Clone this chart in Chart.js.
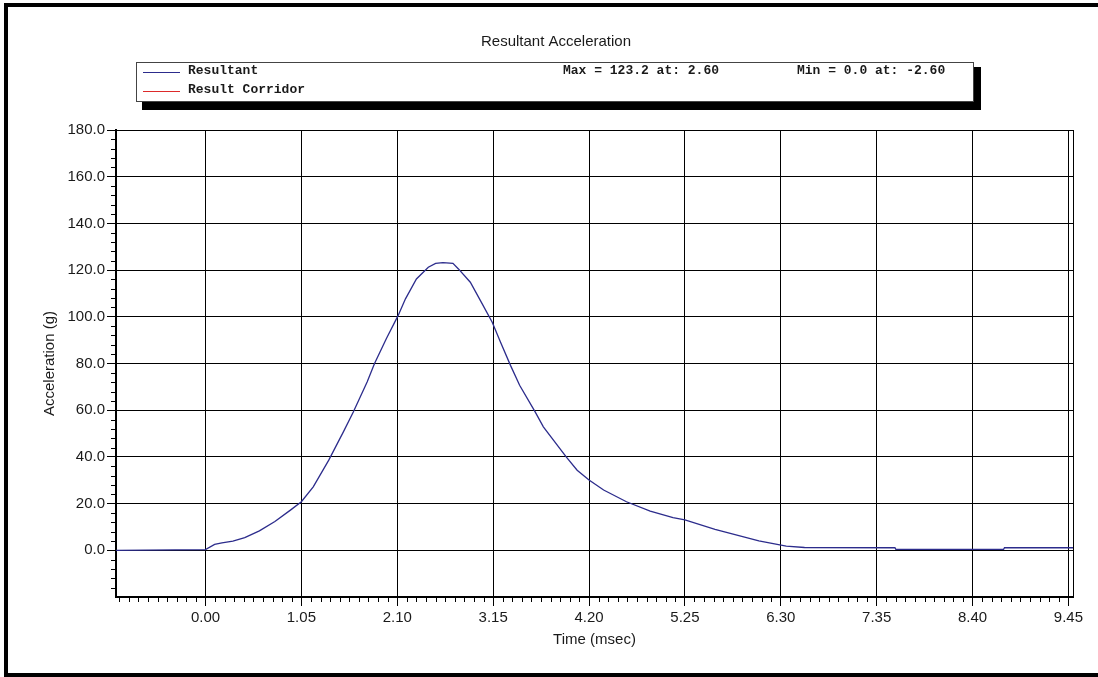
<!DOCTYPE html>
<html>
<head>
<meta charset="utf-8">
<title>Resultant Acceleration</title>
<script src="https://cdn.jsdelivr.net/npm/chart.js@4.4.1/dist/chart.umd.min.js"></script>
<style>
  html, body { margin: 0; padding: 0; background: #fff; }
  #wrap { width: 1098px; height: 677px; position: relative; }
</style>
</head>
<body>
<div id="wrap"><canvas id="accChart" width="1098" height="677"></canvas></div>
<script>
// ===== DATA =====
const TIME_MS = [
  -2.60, -1.00, 0.00, 0.10, 0.18, 0.30, 0.43, 0.59, 0.76, 0.93,
  1.05, 1.18, 1.35, 1.51, 1.62, 1.77, 1.85, 1.98, 2.11, 2.19,
  2.31, 2.44, 2.52, 2.60, 2.71, 2.77, 2.90, 3.02, 3.14, 3.23,
  3.34, 3.44, 3.61, 3.70, 3.95, 4.07, 4.20, 4.36, 4.61, 4.87,
  5.12, 5.25, 5.58, 6.06, 6.36, 6.56, 7.55, 7.56, 8.74, 8.75, 9.60
];
const ACCEL_G = [
  0.0, 0.0, 0.3, 2.5, 3.2, 3.9, 5.4, 8.3, 12.3, 17.2,
  20.8, 27.2, 38.6, 50.7, 59.3, 72.1, 79.9, 90.6, 100.6, 107.7,
  116.2, 121.2, 122.9, 123.2, 122.9, 120.5, 114.8, 106.3, 97.7, 89.2,
  79.2, 70.7, 59.3, 52.9, 40.0, 34.3, 30.1, 25.8, 20.8, 16.8,
  14.0, 13.0, 9.0, 4.0, 1.8, 1.2, 1.1, 0.4, 0.4, 1.1, 1.1
];
const CORRIDOR_G = [];   // corridor trace is listed in the legend but not drawn

const SERIES_NAMES  = ['Resultant', 'Result Corridor'];
const SERIES_COLORS = ['#2c2c8c', '#dd2a2a'];
const X_TICKS = [0.00, 1.05, 2.10, 3.15, 4.20, 5.25, 6.30, 7.35, 8.40, 9.45];
const Y_TICKS = [0, 20, 40, 60, 80, 100, 120, 140, 160, 180];
const X_MINOR_PER_MAJOR = 10;
const Y_MINOR_PER_MAJOR = 5;

const TITLE = 'Resultant Acceleration';
const INK = '#1a1a1a';

Chart.defaults.font.family = '"Liberation Sans", Arial, sans-serif';
Chart.defaults.font.size = 15;
Chart.defaults.color = INK;

// ======== FRAME + TITLE + LEGEND BOX ========
const frameBox = {
  id: 'frameBox',
  beforeDraw(chart) {
    const ctx = chart.ctx;
    ctx.save();
    ctx.fillStyle = '#fff';
    ctx.fillRect(0, 0, chart.width, chart.height);
    ctx.fillStyle = '#000';
    ctx.fillRect(4, 3, 4, 674);
    ctx.fillRect(4, 3, 1094, 4);
    ctx.fillRect(4, 673, 1094, 4);
    ctx.restore();
  },
  afterDraw(chart) {
    const ctx = chart.ctx;
    ctx.save();
    // title
    ctx.fillStyle = INK;
    ctx.font = '15px "Liberation Sans", Arial, sans-serif';
    ctx.textAlign = 'center';
    ctx.textBaseline = 'middle';
    ctx.fillText(TITLE, 556, 42);

    // legend box with drop shadow
    ctx.fillStyle = '#000';
    ctx.fillRect(142, 67, 839, 43);
    ctx.fillStyle = '#fff';
    ctx.fillRect(136, 62, 838, 40);
    ctx.strokeStyle = '#444';
    ctx.lineWidth = 1;
    ctx.strokeRect(136.5, 62.5, 837, 39);

    ctx.font = 'bold 13px "Liberation Mono", "DejaVu Sans Mono", monospace';
    ctx.textAlign = 'left';
    chart.data.datasets.forEach((ds, i) => {
      const y = 72 + i * 19;
      ctx.strokeStyle = SERIES_COLORS[i];
      ctx.lineWidth = 1;
      ctx.beginPath();
      ctx.moveTo(143, y + 0.5);
      ctx.lineTo(180, y + 0.5);
      ctx.stroke();
      ctx.fillStyle = INK;
      ctx.fillText(ds.label, 188, y - 1);
    });

    // max / min readout from the resultant trace
    let iMax = 0, iMin = 0;
    ACCEL_G.forEach((v, i) => {
      if (v > ACCEL_G[iMax]) iMax = i;
      if (v < ACCEL_G[iMin]) iMin = i;
    });
    ctx.fillText(`Max = ${ACCEL_G[iMax].toFixed(1)} at: ${TIME_MS[iMax].toFixed(2)}`, 563, 71);
    ctx.fillText(`Min = ${ACCEL_G[iMin].toFixed(1)} at: ${TIME_MS[iMin].toFixed(2)}`, 797, 71);
    ctx.restore();
  },
};

// ======== MINOR TICKS + TOP/RIGHT BORDER ========
const minorTicks = {
  id: 'minorTicks',
  afterDraw(chart) {
    const { ctx, chartArea: ca } = chart;
    const xs = chart.scales.x, ys = chart.scales.y;
    ctx.save();
    ctx.strokeStyle = '#000';
    ctx.lineWidth = 1;
    ctx.beginPath();

    const xStep = (X_TICKS[1] - X_TICKS[0]) / X_MINOR_PER_MAJOR;
    for (let k = Math.ceil(xs.min / xStep); k * xStep <= xs.max + 1e-9; k++) {
      if (k % X_MINOR_PER_MAJOR === 0) continue;
      const px = Math.round(xs.getPixelForValue(k * xStep)) + 0.5;
      ctx.moveTo(px, ca.bottom);
      ctx.lineTo(px, ca.bottom + 5);
    }
    const yStep = (Y_TICKS[1] - Y_TICKS[0]) / Y_MINOR_PER_MAJOR;
    for (let k = Math.ceil(ys.min / yStep); k * yStep <= ys.max + 1e-9; k++) {
      if (k % Y_MINOR_PER_MAJOR === 0) continue;
      const py = Math.round(ys.getPixelForValue(k * yStep)) + 0.5;
      ctx.moveTo(ca.left - 5, py);
      ctx.lineTo(ca.left, py);
    }
    // top and right edge of the plot
    ctx.moveTo(ca.left, Math.round(ca.top) + 0.5);
    ctx.lineTo(ca.right, Math.round(ca.top) + 0.5);
    ctx.moveTo(Math.round(ca.right) + 0.5, ca.top);
    ctx.lineTo(Math.round(ca.right) + 0.5, ca.bottom);
    ctx.stroke();
    ctx.restore();
  },
};

// ======== CHART ========
new Chart(document.getElementById('accChart'), {
  type: 'line',
  data: {
    datasets: [
      {
        label: SERIES_NAMES[0],
        data: TIME_MS.map((t, i) => ({ x: t, y: ACCEL_G[i] })),
        borderColor: SERIES_COLORS[0],
        borderWidth: 1.3,
        pointRadius: 0,
        tension: 0,
        fill: false,
      },
      {
        label: SERIES_NAMES[1],
        data: CORRIDOR_G,
        borderColor: SERIES_COLORS[1],
        borderWidth: 1,
        pointRadius: 0,
        fill: false,
      },
    ],
  },
  options: {
    responsive: false,
    animation: false,
    devicePixelRatio: 1,
    layout: { padding: { top: 130, right: 25, left: 0, bottom: 0 } },
    plugins: {
      legend: { display: false },
      title: { display: false },
      tooltip: { enabled: false },
    },
    scales: {
      x: {
        type: 'linear',
        min: -0.98, max: 9.5,
        afterBuildTicks: s => { s.ticks = X_TICKS.map(v => ({ value: v })); },
        afterFit: s => { s.height = 80; },
        ticks: {
          autoSkip: false, maxRotation: 0, padding: 3,
          callback: v => Number(v).toFixed(2),
        },
        grid: { color: '#000', lineWidth: 1, tickLength: 9, tickColor: '#000' },
        border: { display: true, color: '#000', width: 2 },
        title: { display: true, text: 'Time (msec)', padding: { top: 0, bottom: 28 } },
      },
      y: {
        type: 'linear',
        min: -20, max: 180,
        afterBuildTicks: s => { s.ticks = Y_TICKS.map(v => ({ value: v })); },
        afterFit: s => { s.width = 116; },
        ticks: { padding: 2, callback: v => Number(v).toFixed(1) },
        grid: { color: '#000', lineWidth: 1, tickLength: 9, tickColor: '#000' },
        border: { display: true, color: '#000', width: 2 },
        title: { display: true, text: 'Acceleration (g)', padding: { top: 41, bottom: 0 } },
      },
    },
  },
  plugins: [frameBox, minorTicks],
});
</script>
</body>
</html>
